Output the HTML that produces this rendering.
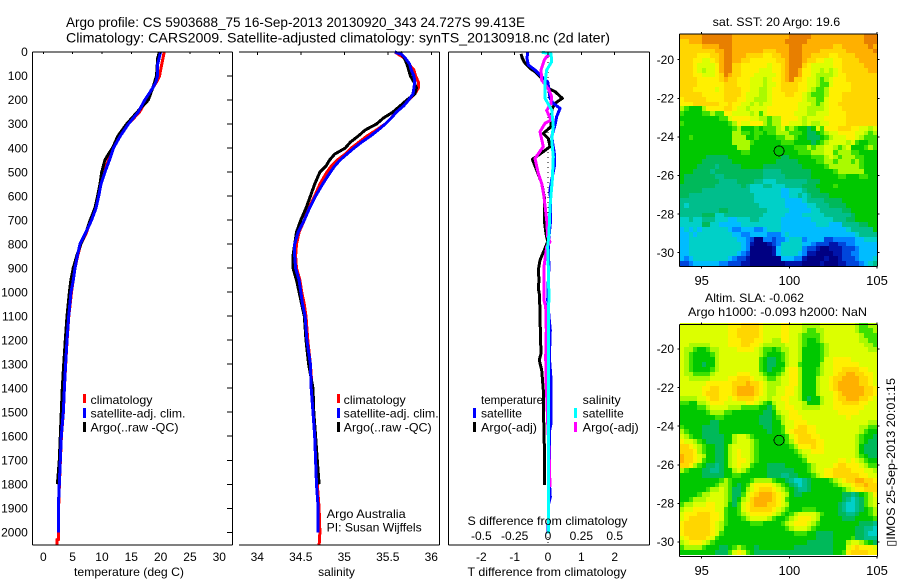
<!DOCTYPE html>
<html lang="en">
<head>
<meta charset="utf-8">
<title>Argo profile chart</title>
<style>
html,body{margin:0;padding:0;background:#fff;}
svg{display:block;}
text{font-family:"Liberation Sans",sans-serif;font-size:12px;fill:#000;}
</style>
</head>
<body>
<svg id="chart" xmlns="http://www.w3.org/2000/svg" width="900" height="580" viewBox="0 0 900 580">
  <rect x="0" y="0" width="900" height="580" fill="#fff"/>
  <g id="maps"></g>
  <g id="marks"></g>
  <g id="axes"></g>

  <text x="66" y="27" style="font-size:14px" textLength="459" lengthAdjust="spacingAndGlyphs">Argo profile: CS 5903688_75 16-Sep-2013 20130920_343 24.727S 99.413E</text>
  <text x="66" y="42.5" style="font-size:14px" textLength="544" lengthAdjust="spacingAndGlyphs">Climatology: CARS2009. Satellite-adjusted climatology: synTS_20130918.nc (2d later)</text>

  <text x="74" y="576" textLength="110" lengthAdjust="spacingAndGlyphs">temperature (deg C)</text>
  <text x="336.5" y="576" text-anchor="middle">salinity</text>
  <text x="467.5" y="576" textLength="159" lengthAdjust="spacingAndGlyphs">T difference from climatology</text>
  <text x="467.5" y="525" textLength="160" lengthAdjust="spacingAndGlyphs">S difference from climatology</text>

  <g>
    <rect x="83" y="394" width="3" height="9" fill="#f00"/>
    <rect x="83" y="408" width="3" height="10" fill="#00f"/>
    <rect x="83" y="422" width="3" height="10" fill="#000"/>
    <text x="90.5" y="404" textLength="62" lengthAdjust="spacingAndGlyphs">climatology</text>
    <text x="90.5" y="417.5" textLength="95" lengthAdjust="spacingAndGlyphs">satellite-adj. clim.</text>
    <text x="90.5" y="431.5" textLength="88" lengthAdjust="spacingAndGlyphs">Argo(..raw -QC)</text>
  </g>
  <g>
    <rect x="337" y="394" width="3" height="9" fill="#f00"/>
    <rect x="337" y="408" width="3" height="10" fill="#00f"/>
    <rect x="337" y="422" width="3" height="10" fill="#000"/>
    <text x="343.7" y="404" textLength="62" lengthAdjust="spacingAndGlyphs">climatology</text>
    <text x="343.7" y="417.5" textLength="95" lengthAdjust="spacingAndGlyphs">satellite-adj. clim.</text>
    <text x="343.7" y="431.5" textLength="88" lengthAdjust="spacingAndGlyphs">Argo(..raw -QC)</text>
    <text x="326.7" y="518" textLength="79" lengthAdjust="spacingAndGlyphs">Argo Australia</text>
    <text x="326.7" y="531.5" textLength="95" lengthAdjust="spacingAndGlyphs">PI: Susan Wijffels</text>
  </g>
  <g>
    <text x="481" y="404" textLength="62" lengthAdjust="spacingAndGlyphs">temperature</text>
    <rect x="473" y="408" width="3" height="10" fill="#00f"/>
    <rect x="473" y="422" width="3" height="10" fill="#000"/>
    <text x="481" y="417.5" textLength="41" lengthAdjust="spacingAndGlyphs">satellite</text>
    <text x="481" y="431.5" textLength="56" lengthAdjust="spacingAndGlyphs">Argo(-adj)</text>
    <text x="582.7" y="404" textLength="38" lengthAdjust="spacingAndGlyphs">salinity</text>
    <rect x="574" y="408" width="3" height="10" fill="#0ff"/>
    <rect x="574" y="422" width="3" height="10" fill="#f0f"/>
    <text x="582.7" y="417.5" textLength="41" lengthAdjust="spacingAndGlyphs">satellite</text>
    <text x="582.7" y="431.5" textLength="56" lengthAdjust="spacingAndGlyphs">Argo(-adj)</text>
  </g>

  <text x="712.7" y="26" textLength="127.5" lengthAdjust="spacingAndGlyphs">sat. SST: 20 Argo: 19.6</text>
  <text x="705" y="302" textLength="99" lengthAdjust="spacingAndGlyphs">Altim. SLA: -0.062</text>
  <text x="688" y="316" textLength="179" lengthAdjust="spacingAndGlyphs">Argo h1000: -0.093 h2000: NaN</text>
  <text transform="translate(895,546.7) rotate(-90)" textLength="168.7" lengthAdjust="spacingAndGlyphs">▯IMOS 25-Sep-2013 20:01:15</text>
</svg>

<script>
// ---------- Profile data (depth in m, temperature in deg C, salinity in psu) ----------
const tempSatDepths = [0,50,100,125,150,200,250,300,350,400,450,500,550,600,650,700,750,800,850,900,950,1000,1100,1200,1300,1400,1500,1600,1700,1800,1900,2000];
const tempSatValues = [20.0,19.5,19.45,19.2,18.65,17.3,16.2,14.5,13.1,11.95,11.26,10.5,9.83,9.44,8.98,8.24,7.28,6.25,5.8,5.4,5.12,4.72,4.33,4.04,3.8,3.59,3.41,3.07,2.9,2.73,2.56,2.56];
const tempClimDepths = [0,50,100,125,150,200,250,300,350,400,450,500,550,600,650,700,750,800,850,900,950,1000,1100,1200,1300,1400,1500,1600,1700,1800,1900,2000,2030,2031,2055];
const tempClimValues = [20.6,20.2,19.8,19.3,18.65,17.6,16.4,14.5,13,11.95,11.1,10.4,9.83,9.4,8.93,8.07,7.4,6.4,5.85,5.4,5.1,4.8,4.35,4.05,3.82,3.6,3.42,3.08,2.92,2.75,2.6,2.6,2.6,2.3,2.3];
const tempArgoDepths = [0,25,100,150,200,250,300,350,400,425,450,500,550,600,650,700,750,800,850,900,950,1000,1100,1200,1300,1400,1500,1600,1700,1800];
const tempArgoValues = [19.8,19.5,19.3,18.65,17.9,16,14.2,12.7,11.8,11.1,10.5,9.95,9.66,9.26,8.8,8,7.3,6.4,5.7,5.1,4.7,4.45,4.04,3.75,3.47,3.24,3.07,2.9,2.73,2.4];

const salSatDepths = [0,10,25,50,75,100,125,150,175,200,225,250,275,300,325,350,375,400,425,450,475,500,550,600,650,700,750,800,850,900,950,1000,1050,1100,1200,1300,1400,1500,1600,1700,1800,1900,2000];
const salSatValues = [35.58,35.66,35.70,35.75,35.77,35.80,35.81,35.80,35.79,35.74,35.68,35.60,35.54,35.47,35.39,35.30,35.20,35.11,35.03,34.95,34.89,34.84,34.75,34.67,34.60,34.54,34.47,34.43,34.43,34.44,34.48,34.50,34.52,34.55,34.57,34.61,34.62,34.64,34.66,34.67,34.68,34.70,34.70];
const salClimDepths = [0,25,50,75,100,125,150,175,200,225,250,275,300,325,350,375,400,425,450,475,500,550,600,650,700,750,800,850,900,950,1000,1050,1100,1200,1300,1400,1500,1600,1700,1800,1900,2000,2055];
const salClimValues = [35.58,35.69,35.74,35.80,35.82,35.85,35.85,35.81,35.74,35.68,35.59,35.54,35.47,35.37,35.26,35.17,35.08,35.01,34.92,34.85,34.80,34.72,34.66,34.59,34.54,34.48,34.45,34.44,34.45,34.49,34.51,34.54,34.56,34.58,34.61,34.63,34.65,34.66,34.68,34.69,34.71,34.72,34.71];
const salArgoDepths = [0,25,50,75,100,125,150,175,200,225,250,275,300,325,350,375,400,425,450,475,500,525,550,600,650,700,750,800,850,900,950,1000,1050,1100,1200,1300,1400,1500,1600,1700,1800];
const salArgoValues = [35.64,35.69,35.72,35.74,35.76,35.80,35.83,35.81,35.72,35.64,35.56,35.45,35.37,35.24,35.16,35.07,35.01,34.89,34.83,34.79,34.72,34.69,34.66,34.61,34.56,34.50,34.45,34.43,34.41,34.41,34.45,34.48,34.51,34.54,34.56,34.59,34.64,34.65,34.67,34.69,34.71];

const dTempArgoDepths = [8,26,47,68,82,103,124,151,165,193,214,235,283,311,339,360,394,415,447,492,547,603,700,756,790,818,867,908,950,985,1006,1075,1158,1256,1283,1325,1408,1533,1638,1804];
const dTempArgoValues = [-0.81,-0.77,-0.69,-0.54,-0.39,-0.24,-0.04,0.01,0.21,0.43,0.21,0.13,0.09,0.09,-0.14,0.01,0.06,-0.14,-0.47,-0.34,-0.19,-0.11,-0.11,-0.06,-0.01,-0.09,-0.24,-0.29,-0.27,-0.29,-0.26,-0.24,-0.23,-0.21,-0.26,-0.19,-0.14,-0.13,-0.11,-0.11];
const dTempSatDepths = [0,26,54,75,96,124,158,193,214,235,269,304,353,422,478,519,575,644,714,769,825,894,950,1033,1103,1158,1200,1269,1360,1547,1575,1811,1853,1881,2006];
const dTempSatValues = [-0.61,-0.63,-0.59,-0.39,-0.24,-0.01,0.03,0.06,0.16,0.36,0.26,0.21,0.11,0.19,0.19,0.13,0.06,0.08,0.07,0.03,0.01,0.03,0.01,-0.01,0.03,0.07,0.06,0.04,0.09,0.09,0.05,0.05,0.07,0.02,0.00];
const dSalArgoDepths = [8,19,33,75,117,158,186,214,244,283,297,332,394,443,506,547,603,700,769,790,811,894,1033,1061,1158,1269,1353,1547,1658,1811];
const dSalArgoValues = [0.0225,-0.01,-0.0275,-0.0525,-0.0475,0.0075,0.0275,0.0225,-0.01,0.0225,-0.0225,-0.06,-0.035,-0.0975,-0.0725,-0.0475,-0.03,-0.01,-0.0025,0.015,-0.01,-0.03,-0.03,-0.0175,-0.0125,-0.0175,-0.015,-0.0025,0.0075,0.015];
const dSalSatDepths = [1,8,40,75,124,193,242,311,367,436,533,644,756,811,894,1033,1061,1408,1825,2006];
const dSalSatValues = [-0.0475,0.0225,0.0275,-0.01,-0.0225,-0.0225,0.0275,0.04,0.0275,0.04,0.0325,0.015,0.0075,-0.0025,0.0025,0.0075,0.0025,0.0025,0.0025,0.0025];

// ---------- Tick labels ----------
const depthTicks = [0,100,200,300,400,500,600,700,800,900,1000,1100,1200,1300,1400,1500,1600,1700,1800,1900,2000];
const tempTicks = [0,5,10,15,20,25,30];
const salTicks = [34,34.5,35,35.5,36];
const dTempTicks = [-2,-1,0,1,2];
const dSalTicks = [-0.5,-0.25,0,0.25,0.5];
const lonTicks = [95,100,105];
const latTicks = [-20,-22,-24,-26,-28,-30];

// ---------- Map data: each letter is one 0.25 degree cell, coded as a colour level ----------
const levelCodes = "abcdefghijklmnop";
const levelColors = ["#000082","#0014aa","#0046dc","#0082ff","#00bcff","#00d0c8","#00be8c","#00b95a","#00c800","#3ce100","#aafa00","#dcff00","#fff000","#ffd600","#ffb000","#e87f00"];
const floatLon = 99.413;
const floatLat = -24.727;

const sstRows = [
"ooooo ppppp ppooo ooooo ooooo ppppp ooooo ooooo ooppp",
"nnooo ppppp ppooo ooooo oooop ppppo ooooo ooooo ooppp",
"nnnnn oooop ppooo ooooo ooooo pppoo ooooo nnooo ooopo",
"nnnnn nnnoo ppooo oooon nnooo pppoo oonnn nnnoo oooop",
"nnnnm mmnno ppooo nnnnm mnnoo pppoo nnnnm mnnnn ooooo",
"nnnmm llmno ppoon nmmmm mmnno pppon nmmll mmnnn noooo",
"nnnml lllmo ppnnm mmmmm lmmno pppnm lllll mmnnn nnooo",
"nnnml kllmo ppnnm mmmll lmmno ppomm llklk lmnnn nnnoo",
"nnnmm lllmn ponnm mmlll llmno ppomm lkkkk lmmnn nnnnn",
"nnnnm mmmmn onnmm mlllk lmmno pnnml lkjkl mmmnn nnnnn",
"nnnnm mmmmm nnnmm mlllk llmnn nnmml lkjjl mmmmn nnnnn",
"nnnmm mmmlm nnnnm mllkk lmmnn nnmml kjjkm mmmmn nnnnn",
"nnnnn mmmmm nnnnm lllkk lmmmn nmmlk jjjkm mmnnn nnnnn",
"mnnnn nmmmm nnnmm llkkk lmmmm mmmlk kjjlm mmnnn nnnnn",
"mmmnn nnnnm mnmml lklkl lmmmm mmlll kjklm mnnnn nnnnn",
"kjiii kmmmm nnmll kllll mmmmm mmllk kkklm mmnnn nnnnn",
"jiiii jjkjj mmlll lkljl mmmmm mlllk klllm mmmnn nnnnn",
"iiiii iiiij jlmmm mllkk jkkmm mmlkl lllmm mmmnn nnnnn",
"jiiii iiiii ijkml lmmmk jkkmm lllkl kkllm mmmnn nnnnn",
"iiiii iiiii iijki iijij jjklj kjiih iljmm mnnnm mllkl",
"iiiii iiiii iikkj jijji jjkkk jjjih hijkl lmmmm llkjk",
"iijii iiiii iikkk iijii iijjk kjiih hhijk lllmm lkjjj",
"iiiii iiiii iikkk kjiii iiijj jiiii hijkl lllkl jiijj",
"iiiii iiiii iiikk kiiii iiiii ijjjk jkkll kjkli iijkj",
"iiiii iiiii iiiij jiiii iiiii iijjj kkkll jkkkj jiiii",
"iiiii ihhhh hiiii iiiii iiihh iiiii jjjkl kjkkk jjiii",
"iiiii hhhhh hhiii iiiii iihhh hhiii ijjkk jkkkj kjiii",
"iiiih hhhgh hhhhi iiiih hhhhh hhhii iiijk kkkkk kjiii",
"iiihh hhghh hhhhh hhhhg ggghh hhhhh iiiii jkkkk kkiii",
"ihhhh hhhgg hhhhh hhhhg ggggh hhhhh iiiii ijjii ijjii",
"ihhhh hhhhg ggghh hhggf ffggg ggggh hhiii iiiii iiiii",
"hhhhh hhhgg ggggh gfffg gfffg ggghh hiiii jiiii iiiii",
"hhhhh ggggg ggggg gffff fffee fffgh hhiii iiiii iiiii",
"hhggg ggggg ggggg ggfff fffee ffgfg hhhhi iiiii iiiii",
"ggggg ggggg ggggg ggfff ffffe eeefg ggghh hhiii iiiii",
"gfggg ggggg ggggg gggff ffffe eeeef fgggh hhhii iiiii",
"ggggg ggggh hgggg ggggg fffff eeeee ffggg gghhi iiiii",
"ggggg hhhff ggggg ggggf ffffe eeeff fffgg ggggh iiiii",
"ffgff gggff feeff fggff fffee eeeee fffff ggghh iiiii",
"fffff hhffe eeeef fffff fffee eeeee efffe eeggg ghhii",
"efefe fffff fedde eedde fffee eeeee eeeee eeefg ggggi",
"eefef fffff ffeed deeee dddef eeeee eeeee eeeee fgggg",
"eefff fffff fffee dcaad dcdde fffde eeecc ddddd eefff",
"eefff fffff ffffe dbaaa bcdff fffee dcccb bccdd eeeee",
"eefff fffff ffffe daaaa abeff fffdc cbaab bbccc deeee",
"eefff fffff fffed caaaa abeff ffedb baaaa bbccd deeee",
"edeff fffff fedcc baaaa aaaee eddba aaaba abccc deeef",
"ccdee eeeed dcccb baaaa aaaab bbbaa aabaa abbcc cdefg"
];

const slaRows = [
"lllll lllll lmmmn nnnml lllmm lllkk kklll lllll kjjkk",
"lllll lllll lmmnn nnnml lllmm lllkj jkkll lllll kjjjk",
"lllll lllll lmmnn nnnml lllmm llkjj jjkll lllll lkjjj",
"lllll lllll lmmmn nnmml lkkmm llkji ijkll lllll lkkjj",
"llkkk kklll lmmmn nmmlk kkkkl llkji iijkl lllll llkkj",
"lkkji ijkkl lllmm mmlkj jijkk llkii iijkl lllll lllkk",
"lkjii iijkl lllll lllkj iiijk llkii iijkl lllll lllll",
"lkjii iiikl lllll lllji hhijk llkii iijll mmmml lllll",
"lkjii hiikl lllll lllji hhiik lljii iikll mmmmm mllll",
"lkjii iijkl lllll lllji hiijl mmkii ijkll mmnnn nmmll",
"lkkjj jjkll lllmm mllkj iijkl mmkii ijkll mnnoo nnmml",
"llkkk kklll lmmnn nmllk jjkll mmkii ikllm nnooo onnml",
"lllll lmmmm mmnnn onnml kkkll mmkii ikllm noooo onnml",
"lllll mmnnm mmnoo oonml kkllm mlkii ikllm noooo oonnm",
"lllll mnnnm mmnoo oonml kkllm mlkii iklll mnooo oonnm",
"kkkkl lmnnm mlmnn nnmll kllmm llkih iikll mnnoo onnml",
"jjiik klmmm lllll mmlkj ikllm lllki iikll mmnnn nmmll",
"iiiij jklll lkkkj jjjii hjllm mllkk kklll mmmmm mmlll",
"iiiii ijkkk jjiii iiiih hikll mmlll lllll lmmmm mllll",
"iiiii iiijj iiiii iiihh hijkl mmmll lllll lllml lllll",
"iiiii iihhi iiiii iiihh hiikl lmmml lllll lllll lllkk",
"jiiii hhhhi iiiii iiiih hiijl lmnnm mllll lllll lkkjj",
"kjiii hhhhi iiiii iiiii hiijl mnnnm mllll lllll lkjii",
"lkjii hhhhh iikll kjiii iiiij lmnnn mmlll lllll kjiih",
"mllkj ihhhh iikll lkjii iiiij kmnnn nmmll lllll kjihh",
"nnmlk jiihh iklll lkjii iiiii jkmmm nmmll lllll kihhh",
"nnnmk jiihh iklml lkjii iiiii ijkll mmmll lllll kihhh",
"onnml kiihh iklml lkjii iiiii iijkl lllll lllll kjihh",
"onnml jiihh iklmm lkjii iiiii iiijl lllll lmmlm lkjii",
"nnmkj ihhgh iklml ljiii hhhhi iiiij kllll mnnmm mlkjj",
"kjiii hhggh iiklk jiiii hhhhh hiiij kllmm nnnnm mmllk",
"iiiii hhhhh iijji iiiii hhhgg hhiii jklmm nnnnn nmmll",
"iiiii iiiij kjiii ijkkk kjiih gffgh iiiij klmnn oonnm",
"iiiii iiijk kjihi jlmmm mlkji hgfgh iiiii jkllm nnonn",
"iiiii ijkkl kjhhi klmnn nmlkj ihggh iiiii iijkl mmnnn",
"iiiij kklll kjhhj lmnoo onmlk ihhii iiiii iihhg hijkm",
"iijkk kllll kjhik lnooo onmlj iiiii iiiii iihgf ghjkl",
"jkkll lmmll kihjl mnooo nnmlk iiiii iiiii ihgff ghjkl",
"kllmm mmmll jiijl mnnnn nmlkj iiijj jiiii ihgff ghijk",
"lmmmn nnmml jiijk lmmmm mlkji jklll lkjii ihhgg hiijk",
"lmnnn nnmml jiiij kllll kjiij klmmm lkiii iihhh iiiij",
"mnnnn nnmlk jiiii ijjji iiijk lmmml kjiii iiiii ihhhg",
"mnnnn nnmlk iiiii iiiii iiiij klllk jiiii iiiii hhggf",
"mnnnn nnmlj iiiii iiiii iiiii ijjji ihhhh iiiii hhgff",
"lmnnn nmlji iiiii iiiii iiiii iiiii ihhhh iiiij hhggg",
"klmmm lkjii iiiii iiiii iiiii iiiih hhhhh iiikl lkjih",
"jkkkk jiiih hijkj iihii iiiii ihhhh hhhhh iiilm nmmml",
"iiiii iiihh hjlml jihhh hhhhh hhhhh hhhhh iijmn nnnmm"
];

// ---------- Axis functions ----------
const depthY = d => 52 + d * 0.24015;
const tempX = t => 43.3 + t * 5.867;
const salX = s => 257.3 + (s - 34) * 87;
const dTempX = t => 548 + t * 33.33;
const dSalX = s => 548 + s * 133.33;
const lonX = lon => 701.7 + (lon - 95) * 17.53;
const sstLatY = lat => 59.7 + (-20 - lat) * 19.3;
const slaLatY = lat => 349 + (-20 - lat) * 19.3;

const NS = "http://www.w3.org/2000/svg";
const marks = document.getElementById("marks");
const axes = document.getElementById("axes");
const maps = document.getElementById("maps");

function addLine(parent, x1, y1, x2, y2, name) {
  const l = document.createElementNS(NS, "line");
  l.setAttribute("x1", x1);
  l.setAttribute("y1", y1);
  l.setAttribute("x2", x2);
  l.setAttribute("y2", y2);
  l.setAttribute("stroke", "#000");
  l.setAttribute("stroke-width", "1");
  l.setAttribute("shape-rendering", "crispEdges");
  
  
  parent.appendChild(l);
  return l;
}

function addText(parent, x, y, str, anchor, name) {
  const t = document.createElementNS(NS, "text");
  t.setAttribute("x", x);
  t.setAttribute("y", y);
  t.setAttribute("text-anchor", anchor);
  
  
  t.textContent = str;
  parent.appendChild(t);
  return t;
}

function drawProfile(depths, values, xFn, color, name, width) {
  const p = document.createElementNS(NS, "polyline");
  const pts = depths.map((d, i) => xFn(values[i]).toFixed(1) + "," + depthY(d).toFixed(1));
  p.setAttribute("points", pts.join(" "));
  p.setAttribute("fill", "none");
  p.setAttribute("stroke", color);
  p.setAttribute("stroke-width", width);
  p.setAttribute("stroke-linejoin", "round");
  p.setAttribute("shape-rendering", "crispEdges");
  
  
  marks.appendChild(p);
}

// ---------- Profile panels ----------
drawProfile(tempClimDepths, tempClimValues, tempX, "#f00", "temperature-climatology-line", 3);
drawProfile(tempArgoDepths, tempArgoValues, tempX, "#000", "temperature-argo-line", 3);
drawProfile(tempSatDepths, tempSatValues, tempX, "#00f", "temperature-satellite-line", 3);

drawProfile(salClimDepths, salClimValues, salX, "#f00", "salinity-climatology-line", 3);
drawProfile(salArgoDepths, salArgoValues, salX, "#000", "salinity-argo-line", 3);
drawProfile(salSatDepths, salSatValues, salX, "#00f", "salinity-satellite-line", 3);

const zeroLine = addLine(marks, dTempX(0), 52, dTempX(0), 545, "zero-difference-line");
zeroLine.setAttribute("stroke-dasharray", "1 4");
drawProfile(dTempArgoDepths, dTempArgoValues, dTempX, "#000", "t-difference-argo-line", 3);
drawProfile(dTempSatDepths, dTempSatValues, dTempX, "#00f", "t-difference-satellite-line", 3);
drawProfile(dSalArgoDepths, dSalArgoValues, dSalX, "#f0f", "s-difference-argo-line", 3);
drawProfile(dSalSatDepths, dSalSatValues, dSalX, "#0ff", "s-difference-satellite-line", 3);

// ---------- Panel frames ----------
const plotTop = 52, plotBottom = 545;
// temperature panel
addLine(axes, 32.5, plotTop, 232.5, plotTop, "temperature-top-axis");
addLine(axes, 32.5, plotBottom, 232.5, plotBottom, "temperature-bottom-axis");
addLine(axes, 32.5, plotTop, 32.5, plotBottom, "temperature-left-axis");
addLine(axes, 232.5, plotTop, 232.5, plotBottom, "temperature-right-axis");
// salinity panel
addLine(axes, 239, plotTop, 439.5, plotTop, "salinity-top-axis");
addLine(axes, 239, plotBottom, 439.5, plotBottom, "salinity-bottom-axis");
addLine(axes, 439.5, plotTop, 439.5, plotBottom, "salinity-right-axis");
// difference panel
addLine(axes, 448.5, plotTop, 649.5, plotTop, "difference-top-axis");
addLine(axes, 448.5, plotBottom, 649.5, plotBottom, "difference-bottom-axis");
addLine(axes, 448.5, plotTop, 448.5, plotBottom, "difference-left-axis");
addLine(axes, 649.5, plotTop, 649.5, plotBottom, "difference-right-axis");

// ---------- Ticks ----------
depthTicks.forEach(d => {
  const y = depthY(d);
  addLine(axes, 227, y, 232, y, "depth-tick-right");
  addText(axes, 27.8, y + 4.2, String(d), "end", "depth-tick-label");
});
tempTicks.forEach(t => {
  const x = tempX(t);
  addLine(axes, x, plotTop, x, plotTop + 2, "temperature-tick-top");
  addText(axes, x, 561, String(t), "middle", "temperature-tick-label");
});
salTicks.forEach(s => {
  const x = salX(s);
  addLine(axes, x, plotTop, x, plotTop + 3, "salinity-tick-top");
  addText(axes, x, 561, String(s), "middle", "salinity-tick-label");
});
dTempTicks.forEach(t => {
  const x = dTempX(t);
  addLine(axes, x, plotTop, x, plotTop + 3, "t-difference-tick-top");
  addText(axes, x, 561, String(t), "middle", "t-difference-tick-label");
});
dSalTicks.forEach(s => {
  addText(axes, dSalX(s), 540, String(s), "middle", "s-difference-tick-label");
});

// ---------- Maps ----------
const cellLonStart = 93.75;
const cellLatStart = -18.67;
const cellStep = 0.25;

function drawMap(rows, latY, prefix, top, bottom) {
  const group = document.createElementNS(NS, "g");
  
  
  maps.appendChild(group);
  rows.forEach((row, r) => {
    const chars = row.replace(/ /g, "");
    const y0 = Math.round(latY(cellLatStart - r * cellStep));
    const y1 = Math.round(latY(cellLatStart - (r + 1) * cellStep));
    for (let c = 0; c < 45; c++) {
      const code = chars[Math.min(c, chars.length - 1)];
      const x0 = Math.round(lonX(cellLonStart + c * cellStep));
      const x1 = Math.round(lonX(cellLonStart + (c + 1) * cellStep));
      const rect = document.createElementNS(NS, "rect");
      rect.setAttribute("x", x0);
      rect.setAttribute("y", y0);
      rect.setAttribute("width", x1 - x0);
      rect.setAttribute("height", y1 - y0);
      rect.setAttribute("fill", levelColors[levelCodes.indexOf(code)]);
      rect.setAttribute("shape-rendering", "crispEdges");
      
      
      group.appendChild(rect);
    }
  });
  const left = 679.5, right = 877.5;
  addLine(group, left, top, right, top, prefix + "-top-axis");
  addLine(group, left, bottom, right, bottom, prefix + "-bottom-axis");
  addLine(group, left, top, left, bottom, prefix + "-left-axis");
  addLine(group, right, top, right, bottom, prefix + "-right-axis");
  lonTicks.forEach(lon => {
    const x = lonX(lon);
    addLine(group, x, top - 2, x, top, prefix + "-lon-tick-top");
    addLine(group, x, bottom, x, bottom + 2, prefix + "-lon-tick-bottom");
    const lbl = addText(group, x, bottom + 18.5, String(lon), "middle", prefix + "-lon-tick-label");
    lbl.setAttribute("style", "font-size:13px");
  });
  latTicks.forEach(lat => {
    const y = latY(lat);
    addLine(group, left - 2, y, left, y, prefix + "-lat-tick-left");
    addLine(group, right, y, right + 2, y, prefix + "-lat-tick-right");
    addText(group, 674, y + 4.2, String(lat), "end", prefix + "-lat-tick-label");
  });
  const marker = document.createElementNS(NS, "circle");
  marker.setAttribute("cx", lonX(floatLon));
  marker.setAttribute("cy", latY(floatLat));
  marker.setAttribute("r", 5);
  marker.setAttribute("fill", "none");
  marker.setAttribute("stroke", "#000");
  marker.setAttribute("stroke-width", "0.8");
  marker.setAttribute("shape-rendering", "crispEdges");
  
  
  group.appendChild(marker);
}

drawMap(sstRows, sstLatY, "sst", 34, 266.5);
drawMap(slaRows, slaLatY, "sla", 324.5, 556.5);
</script>
</body>
</html>
